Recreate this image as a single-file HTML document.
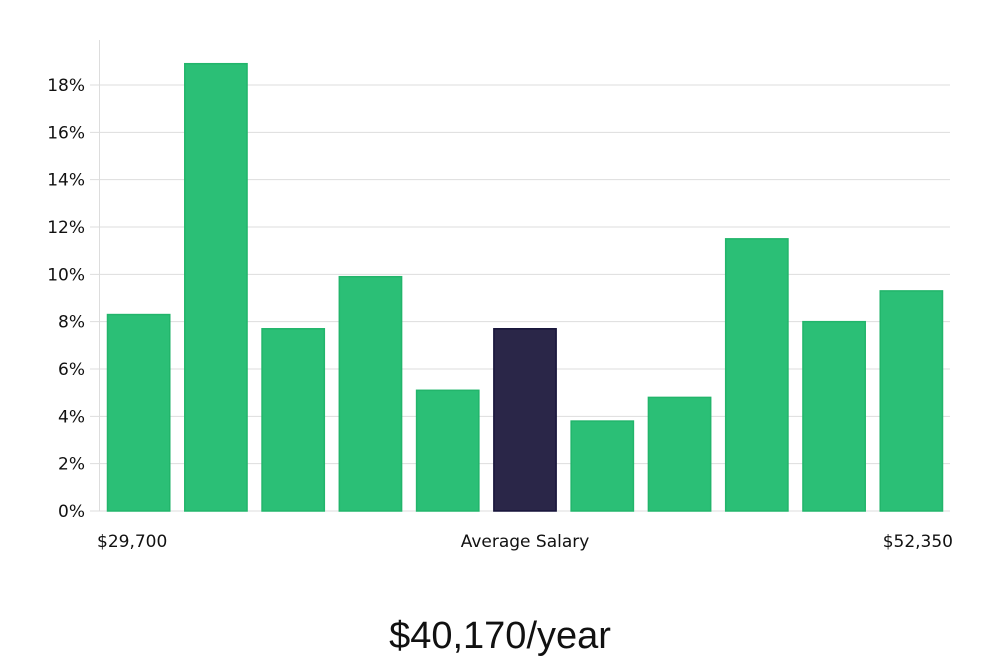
<!DOCTYPE html>
<html><head><meta charset="utf-8"><style>
html,body{margin:0;padding:0;background:#fff;width:1000px;height:660px;overflow:hidden}
svg{display:block}
</style></head><body>
<svg id="chart" width="1000" height="660" xmlns="http://www.w3.org/2000/svg"></svg>
<script>
const categories = ["b1","b2","b3","b4","b5","b6","b7","b8","b9","b10","b11"];
const values = [8.3, 18.9, 7.7, 9.9, 5.1, 7.7, 3.8, 4.8, 11.5, 8.0, 9.3];
const highlightIndex = 5;
const yTicks = [0, 2, 4, 6, 8, 10, 12, 14, 16, 18];
const xLabels = ["$29,700", "Average Salary", "$52,350"];
const titleText = "$40,170/year";

const NS = "http://www.w3.org/2000/svg";
const svg = document.getElementById("chart");
const x0 = 100, x1 = 950, y0 = 511, yTop = 85;
const yScale = v => y0 - (v / 18) * (y0 - yTop);
const band = (x1 - x0) / categories.length;
const xScale = i => x0 + i * band;
function mk(tag, attrs, parent) {
  const e = document.createElementNS(NS, tag);
  for (const k in attrs) e.setAttribute(k, attrs[k]);
  (parent || svg).appendChild(e);
  return e;
}
// grid + ticks
yTicks.forEach(t => {
  const y = yScale(t);
  const g = mk("line", {x1: 90, x2: x1, y1: y, y2: y, stroke: "#dddddd", "stroke-width": 1});
  
  
  const tx = mk("text", {x: 85, y: y + 6, "text-anchor": "end", "font-family": "DejaVu Sans, Liberation Sans, sans-serif", "font-size": 17, fill: "#111"});
  tx.textContent = t + "%";
  
  
});
const ax = mk("line", {x1: 99.5, x2: 99.5, y1: 40, y2: y0, stroke: "#dddddd", "stroke-width": 1});


// bars
values.forEach((v, i) => {
  const hl = i === highlightIndex;
  const r = mk("rect", {x: xScale(i) + 7.5, y: yScale(v), width: band - 15, height: y0 - yScale(v),
    fill: hl ? "#2a2648" : "#2bbf76", stroke: hl ? "#16143a" : "#22b56b", "stroke-width": 1.5});
  
  
});
// x labels
const xl = [[97, "start"], [525, "middle"], [953, "end"]];
xLabels.forEach((s, i) => {
  const t = mk("text", {x: xl[i][0], y: 547, "text-anchor": xl[i][1], "font-family": "DejaVu Sans, Liberation Sans, sans-serif", "font-size": 17, fill: "#111"});
  t.textContent = s;
  
  
});
const ti = mk("text", {x: 500, y: 648, "text-anchor": "middle", "font-family": "Liberation Sans, sans-serif", "font-size": 38, "font-weight": 300, fill: "#111"});
ti.textContent = titleText;


</script>
</body></html>
